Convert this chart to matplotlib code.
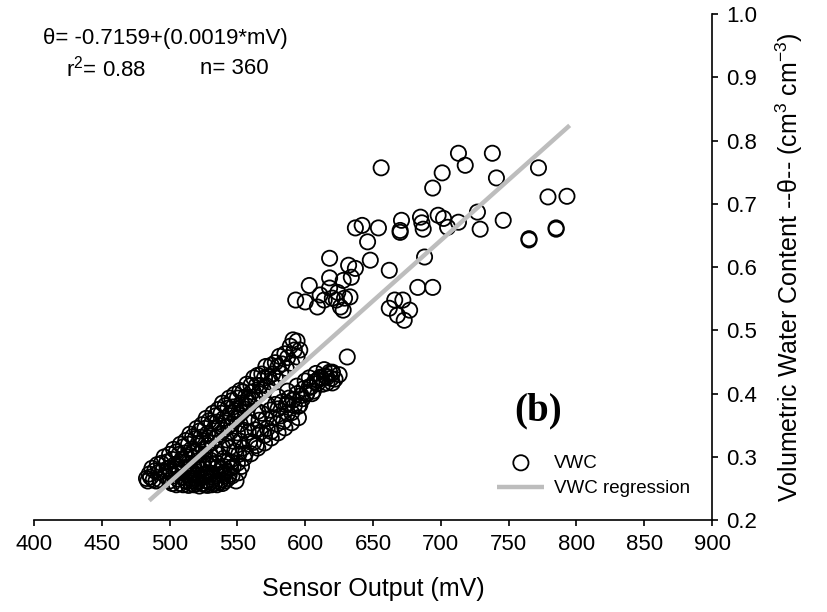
import matplotlib
matplotlib.use("Agg")
import matplotlib.pyplot as plt
import numpy as np

plt.rcParams['font.family'] = ['Liberation Sans', 'DejaVu Sans']
plt.rcParams['mathtext.default'] = 'regular'

# VWC points (mV, cm3/cm3), grouped by region of the cloud
upper_mv = [483, 484, 485, 486, 487, 488, 489, 490, 491, 492, 493, 494, 495, 496, 497, 498, 499,
            500, 501, 502, 503, 504, 505, 506, 507, 508, 509, 510, 511, 512, 513, 514, 515, 516,
            517, 518, 519, 520, 521, 522, 523, 524, 525, 526, 527, 528, 529, 530, 531, 532, 533,
            534, 535, 536, 537, 538, 539, 540, 541, 542, 543, 544, 545, 546, 547, 548, 549, 550,
            552, 553, 554, 556, 557, 558, 560, 561, 562, 564, 565, 567, 568, 570, 571, 573, 575,
            576, 578, 580, 581, 583, 585, 587, 589, 591, 592, 594, 596,
            505, 510, 514, 518, 522, 525, 528, 531, 534, 537, 540, 543, 546, 549, 551, 553, 555,
            557, 559, 561, 563, 566, 569, 572, 575, 578, 582, 586, 590, 594]
upper_vwc = [0.266, 0.262, 0.273, 0.268, 0.282, 0.264, 0.278, 0.262, 0.288, 0.276, 0.264, 0.290,
             0.278, 0.300, 0.270, 0.292, 0.282, 0.304, 0.276, 0.296, 0.312, 0.288, 0.308, 0.284,
             0.304, 0.320, 0.296, 0.316, 0.306, 0.326, 0.300, 0.320, 0.336, 0.312, 0.332, 0.309,
             0.329, 0.345, 0.321, 0.341, 0.331, 0.351, 0.325, 0.345, 0.361, 0.337, 0.357, 0.333,
             0.353, 0.369, 0.345, 0.365, 0.355, 0.375, 0.349, 0.369, 0.385, 0.361, 0.381, 0.357,
             0.377, 0.393, 0.369, 0.389, 0.379, 0.399, 0.373, 0.393, 0.405, 0.385, 0.403, 0.395,
             0.415, 0.393, 0.413, 0.403, 0.425, 0.413, 0.429, 0.413, 0.431, 0.425, 0.443, 0.427,
             0.445, 0.431, 0.449, 0.443, 0.459, 0.447, 0.463, 0.457, 0.475, 0.485, 0.469, 0.483,
             0.469,
             0.275, 0.283, 0.290, 0.298, 0.305, 0.312, 0.318, 0.322, 0.330, 0.336, 0.342, 0.348,
             0.352, 0.360, 0.366, 0.370, 0.376, 0.380, 0.385, 0.390, 0.395, 0.400, 0.406, 0.412,
             0.418, 0.425, 0.432, 0.440, 0.448, 0.458]

lower_mv = [515, 517, 518, 520, 521, 523, 524, 526, 527, 528, 530, 531, 532, 534, 535, 536, 538,
            539, 540, 542, 543, 544, 546, 547, 548, 550, 551, 552, 554, 555, 556, 558, 559, 560,
            562, 563, 564, 566, 567, 568, 570, 571, 572, 574, 575, 576, 578, 579, 580, 582, 583,
            584, 586, 587, 588, 590, 591, 592, 594, 595, 597, 599, 601, 603, 605, 607, 609, 611,
            613, 615, 616, 618, 619, 620, 622,
            540, 545, 550, 555, 560, 565, 570, 575, 580, 585, 590, 595,
            545, 552, 558, 565, 572, 580, 587, 594, 600, 603, 608, 614]
lower_vwc = [0.272, 0.262, 0.285, 0.272, 0.294, 0.267, 0.288, 0.304, 0.271, 0.289, 0.304, 0.274,
             0.289, 0.312, 0.284, 0.304, 0.281, 0.316, 0.298, 0.327, 0.293, 0.314, 0.292, 0.325,
             0.309, 0.338, 0.304, 0.325, 0.314, 0.342, 0.306, 0.339, 0.324, 0.354, 0.323, 0.343,
             0.318, 0.358, 0.339, 0.369, 0.334, 0.360, 0.345, 0.374, 0.340, 0.362, 0.383, 0.352,
             0.376, 0.365, 0.387, 0.356, 0.382, 0.369, 0.393, 0.370, 0.390, 0.381, 0.400, 0.380,
             0.397, 0.408, 0.400, 0.411, 0.400, 0.419, 0.416, 0.426, 0.415, 0.428, 0.417, 0.434,
             0.424, 0.434, 0.423,
             0.275, 0.282, 0.290, 0.298, 0.305, 0.314, 0.322, 0.330, 0.338, 0.346, 0.354, 0.362,
             0.340, 0.352, 0.362, 0.372, 0.383, 0.395, 0.404, 0.412, 0.420, 0.425, 0.432, 0.438]

base_mv = [500, 502, 503, 505, 506, 507, 508, 509, 510, 511, 512, 513, 514, 515, 516, 517, 518,
           519, 520, 521, 522, 523, 524, 525, 526, 527, 528, 529, 530, 531, 532, 533, 534, 535,
           536, 537, 538, 539, 540, 541, 542, 543, 544, 545, 546, 547, 540, 535, 530, 525, 520,
           515, 510, 505, 500, 549, 551, 553]
base_vwc = [0.262, 0.258, 0.270, 0.256, 0.265, 0.275, 0.258, 0.268, 0.256, 0.280, 0.262, 0.272,
            0.255, 0.266, 0.258, 0.276, 0.256, 0.266, 0.258, 0.262, 0.254, 0.280, 0.258, 0.268,
            0.256, 0.262, 0.255, 0.275, 0.260, 0.256, 0.268, 0.258, 0.262, 0.256, 0.272, 0.260,
            0.264, 0.258, 0.270, 0.262, 0.278, 0.266, 0.272, 0.282, 0.270, 0.285, 0.285, 0.290,
            0.295, 0.290, 0.288, 0.285, 0.290, 0.285, 0.278, 0.262, 0.275, 0.285]

high_mv = [656, 694, 701, 713, 718, 738, 741, 772, 779, 793, 765, 765, 785, 785, 746, 729, 727,
           713, 705, 702, 698, 685, 686, 687, 688, 683, 694, 671, 670, 670, 672, 677, 654, 637,
           642, 646, 648, 662, 666, 662, 668, 673, 637, 634, 632, 628, 624, 618, 620, 611, 618,
           614, 600, 593, 609, 603, 629, 628, 618, 623, 633, 626, 631,
           620, 616, 620, 609, 604, 601, 591, 587, 596, 612, 625, 598, 606]
high_vwc = [0.757, 0.725, 0.749, 0.780, 0.761, 0.780, 0.741, 0.757, 0.711, 0.712, 0.643, 0.645,
            0.660, 0.662, 0.674, 0.660, 0.687, 0.671, 0.663, 0.677, 0.682, 0.679, 0.670, 0.660,
            0.616, 0.568, 0.568, 0.674, 0.655, 0.658, 0.548, 0.532, 0.662, 0.662, 0.666, 0.640,
            0.611, 0.595, 0.548, 0.535, 0.524, 0.516, 0.598, 0.584, 0.603, 0.579, 0.560, 0.583,
            0.551, 0.556, 0.567, 0.548, 0.545, 0.548, 0.537, 0.571, 0.551, 0.532, 0.614, 0.548,
            0.553, 0.537, 0.458,
            0.432, 0.426, 0.417, 0.421, 0.410, 0.400, 0.390, 0.385, 0.382, 0.425, 0.430, 0.392,
            0.404]

# regression line end points
reg_mv = [485, 795]
reg_vwc = [0.231, 0.824]

xticks = [400, 450, 500, 550, 600, 650, 700, 750, 800, 850, 900]
yticks = [0.2, 0.3, 0.4, 0.5, 0.6, 0.7, 0.8, 0.9, 1.0]

mv = upper_mv + lower_mv + base_mv + high_mv
vwc = upper_vwc + lower_vwc + base_vwc + high_vwc

fig = plt.figure(figsize=(8.28, 6.12), dpi=100)
ax = fig.add_axes([0.041, 0.150, 0.819, 0.827])

ax.scatter(mv, vwc, s=120, facecolors='none', edgecolors='black', linewidths=1.3,
           label='VWC', zorder=3)
ax.plot(reg_mv, reg_vwc, color='#bdbdbd', lw=3.2, solid_capstyle='butt',
        label='VWC regression', zorder=4)

ax.set_xlim(400, 900)
ax.set_ylim(0.2, 1.0)
ax.set_xticks(xticks)
ax.set_yticks(yticks)
ax.set_yticklabels(['%.1f' % t for t in yticks])

ax.spines['top'].set_visible(False)
ax.spines['left'].set_visible(False)
ax.spines['right'].set_linewidth(1.2)
ax.spines['bottom'].set_linewidth(1.2)
ax.yaxis.tick_right()
ax.yaxis.set_label_position('right')
ax.tick_params(axis='both', direction='out', length=4, width=1.2, labelsize=16, colors='black')
ax.tick_params(axis='x', pad=6)
ax.tick_params(axis='y', pad=6)

ax.set_xlabel('Sensor Output (mV)', fontsize=18, labelpad=16)
ax.set_ylabel('Volumetric Water Content --θ-- (cm$^3$ cm$^{-3}$)', fontsize=18,
              labelpad=12, rotation=90)

ax.text(772, 0.372, '(b)', fontsize=28, fontweight='bold', family='Liberation Serif',
        ha='center', va='center')

ax.legend(loc='upper left', bbox_to_anchor=(0.678, 0.137), frameon=False, fontsize=13.5,
          handlelength=2.5, handletextpad=0.5, labelspacing=0.45, borderpad=0.2,
          borderaxespad=0)

fig.text(0.052, 0.937, 'θ= -0.7159+(0.0019*mV)', fontsize=16, ha='left', va='center')
fig.text(0.080, 0.888, 'r$^2$= 0.88', fontsize=16, ha='left', va='center')
fig.text(0.241, 0.888, 'n= 360', fontsize=16, ha='left', va='center')

fig.savefig('out.png', dpi=100)
